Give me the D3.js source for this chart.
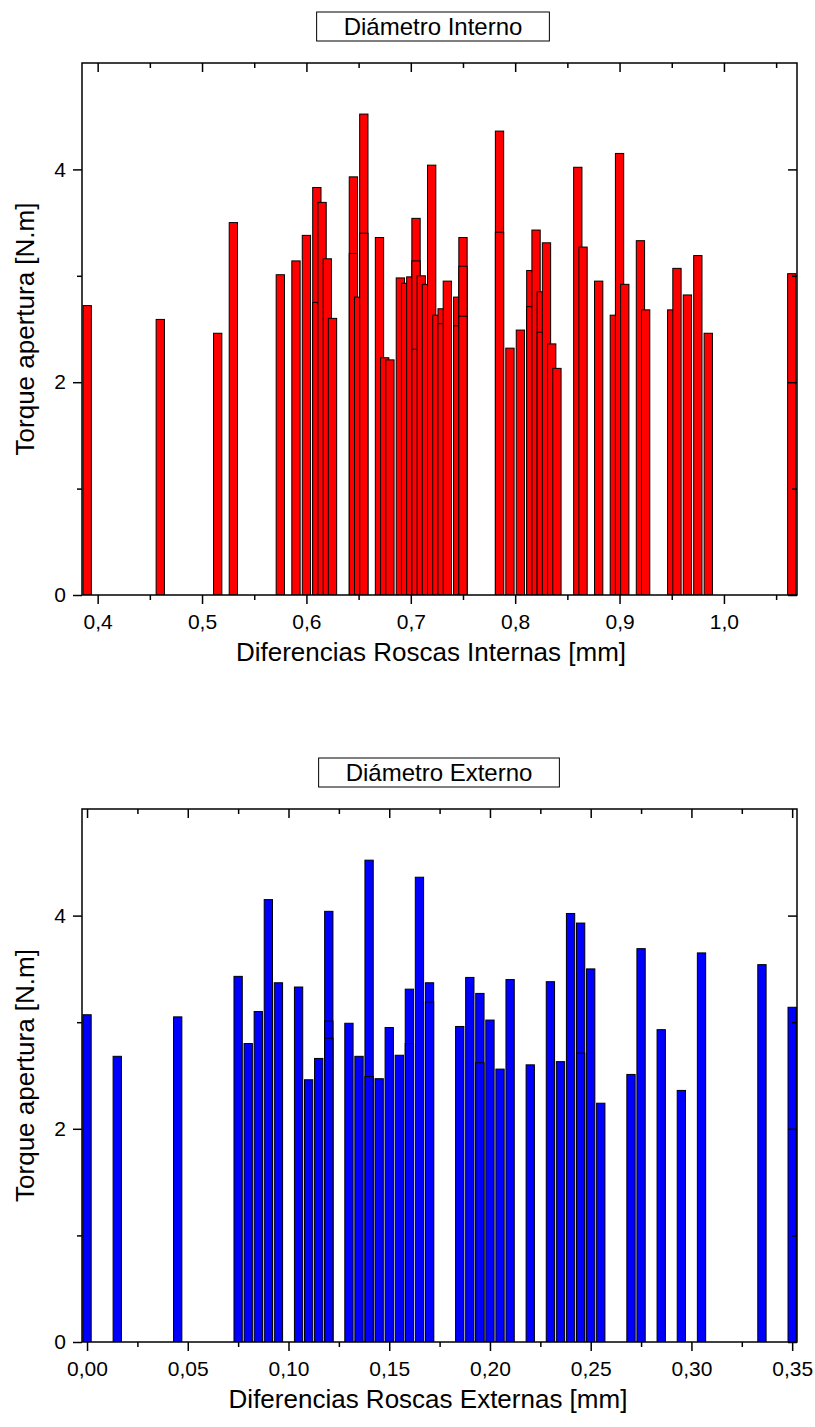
<!DOCTYPE html>
<html>
<head>
<meta charset="utf-8">
<script src="https://cdn.jsdelivr.net/npm/d3@7"></script>
<style>
body { margin: 0; background: #fff; }
text { font-family: "Liberation Sans", Arial, sans-serif; fill: #000; }
</style>
</head>
<body>
<svg id="chart" width="815" height="1427"></svg>
<script>
// Diámetro Interno: diferencia [mm] -> torque [N.m]
const internoX = [0.39, 0.46, 0.515, 0.53, 0.575, 0.59, 0.60, 0.61, 0.61, 0.615, 0.62, 0.625,
  0.645, 0.645, 0.65, 0.655, 0.655, 0.67, 0.675, 0.68, 0.69, 0.695, 0.70, 0.705, 0.705, 0.705,
  0.71, 0.715, 0.72, 0.725, 0.73, 0.73, 0.735, 0.745, 0.745, 0.75, 0.75, 0.75, 0.785, 0.785,
  0.795, 0.805, 0.815, 0.815, 0.82, 0.825, 0.825, 0.83, 0.835, 0.84, 0.86, 0.865, 0.88, 0.895,
  0.90, 0.905, 0.92, 0.925, 0.95, 0.955, 0.965, 0.975, 0.985, 1.065];
const internoY = [2.72, 2.59, 2.46, 3.50, 3.01, 3.14, 3.38, 3.83, 2.75, 3.69, 3.16, 2.60,
  3.93, 3.21, 2.80, 4.52, 3.40, 3.36, 2.23, 2.21, 2.98, 2.93, 2.99, 3.54, 3.14, 2.31,
  3.00, 2.92, 4.04, 2.63, 2.69, 2.55, 2.95, 2.80, 2.53, 3.36, 3.09, 2.62, 4.36, 3.41,
  2.32, 2.49, 3.05, 2.71, 3.43, 2.85, 2.47, 3.31, 2.36, 2.13, 4.02, 3.27, 2.95, 2.63,
  4.15, 2.92, 3.33, 2.68, 2.68, 3.07, 2.82, 3.19, 2.46, 3.02];

// Diámetro Externo
const externoX = [0.00, 0.015, 0.045, 0.075, 0.08, 0.085, 0.09, 0.095, 0.105, 0.11, 0.115,
  0.12, 0.12, 0.12, 0.13, 0.135, 0.14, 0.14, 0.145, 0.15, 0.155, 0.16, 0.16, 0.165, 0.17, 0.17,
  0.185, 0.19, 0.195, 0.195, 0.20, 0.205, 0.21, 0.22, 0.23, 0.235, 0.24, 0.245, 0.245, 0.25,
  0.255, 0.27, 0.275, 0.285, 0.295, 0.305, 0.335, 0.35];
const externoY = [3.07, 2.68, 3.05, 3.43, 2.80, 3.10, 4.15, 3.37, 3.33, 2.46, 2.66,
  4.04, 3.01, 2.85, 2.99, 2.68, 4.52, 2.49, 2.47, 2.95, 2.69, 3.31, 2.80, 4.36, 3.37, 3.19,
  2.96, 3.42, 3.27, 2.62, 3.02, 2.56, 3.40, 2.60, 3.38, 2.63, 4.02, 3.93, 2.71, 3.50,
  2.24, 2.51, 3.69, 2.93, 2.36, 3.65, 3.54, 3.14];

const yMajor = [0, 2, 4];
const yMinor = [1, 3];
const internoMajor = [0.4, 0.5, 0.6, 0.7, 0.8, 0.9, 1.0];
const internoMinor = [0.45, 0.55, 0.65, 0.75, 0.85, 0.95, 1.05];
const externoMajor = [0, 0.05, 0.10, 0.15, 0.20, 0.25, 0.30, 0.35];
const externoMinor = [0.025, 0.075, 0.125, 0.175, 0.225, 0.275, 0.325];

const svg = d3.select("#chart");
const barW = 8.3;

function comma(digits) {
    return d => d3.format("." + digits + "f")(d).replace(".", ",");
}

function drawPanel(cfg) {
    const x = d3.scaleLinear().domain(cfg.xDomain).range([cfg.left, cfg.right]);
    const y = d3.scaleLinear().domain([0, 5]).range([cfg.bottom, cfg.top]);
    const g = svg.append("g");

    // caja del título
    const t = g.append("text")
        .attr("x", cfg.titleX)
        .attr("y", cfg.titleY)
        .attr("text-anchor", "middle")
        .attr("font-size", 24)
        .text(cfg.title);
    const bb = t.node().getBBox();
    g.insert("rect", "text")
        .attr("x", bb.x - 27).attr("y", bb.y - 1)
        .attr("width", bb.width + 54).attr("height", bb.height + 2)
        .attr("fill", "#fff").attr("stroke", "#000").attr("stroke-width", 1);

    g.append("clipPath").attr("id", cfg.id)
        .append("rect")
        .attr("x", cfg.left).attr("y", cfg.top)
        .attr("width", cfg.right - cfg.left).attr("height", cfg.bottom - cfg.top);

    const data = cfg.xs.map((v, i) => ({ x: v, y: cfg.ys[i] }));
    g.append("g").attr("clip-path", `url(#${cfg.id})`)
        .selectAll("rect")
        .data(data)
        .enter()
        .append("rect")
        .attr("x", d => x(d.x) - barW / 2)
        .attr("y", d => y(d.y))
        .attr("width", barW)
        .attr("height", d => y(0) - y(d.y))
        .attr("fill", cfg.color)
        .attr("stroke", "#000")
        .attr("stroke-width", 1);

    // ejes
    const axes = [
        [d3.axisBottom(x).tickValues(cfg.major).tickSize(9).tickPadding(10).tickFormat(comma(cfg.digits)), `translate(0,${cfg.bottom})`],
        [d3.axisBottom(x).tickValues(cfg.minor).tickSize(5).tickFormat(""), `translate(0,${cfg.bottom})`],
        [d3.axisTop(x).tickValues(cfg.major).tickSize(-9).tickFormat(""), `translate(0,${cfg.top})`],
        [d3.axisTop(x).tickValues(cfg.minor).tickSize(-5).tickFormat(""), `translate(0,${cfg.top})`],
        [d3.axisLeft(y).tickValues(yMajor).tickSize(9).tickPadding(7).tickFormat(d3.format("d")), `translate(${cfg.left},0)`],
        [d3.axisLeft(y).tickValues(yMinor).tickSize(5).tickFormat(""), `translate(${cfg.left},0)`],
        [d3.axisRight(y).tickValues(yMajor).tickSize(-9).tickFormat(""), `translate(${cfg.right},0)`],
        [d3.axisRight(y).tickValues(yMinor).tickSize(-5).tickFormat(""), `translate(${cfg.right},0)`]
    ];
    axes.forEach(([ax, tr]) => {
        const a = g.append("g").attr("transform", tr).call(ax.tickSizeOuter(0));
        a.select(".domain").remove();
        a.selectAll("line").attr("stroke", "#000").attr("stroke-width", 1.5);
        a.selectAll("text").attr("font-size", 21).attr("font-family", "Liberation Sans, Arial, sans-serif");
    });

    g.append("rect")
        .attr("x", cfg.left).attr("y", cfg.top)
        .attr("width", cfg.right - cfg.left).attr("height", cfg.bottom - cfg.top)
        .attr("fill", "none").attr("stroke", "#000").attr("stroke-width", 1.5);

    g.append("text")
        .attr("x", cfg.xTitleX)
        .attr("y", cfg.bottom + 66)
        .attr("text-anchor", "middle")
        .attr("font-size", 26)
        .text(cfg.xTitle);

    g.append("text")
        .attr("transform", `translate(34,${(cfg.top + cfg.bottom) / 2}) rotate(-90)`)
        .attr("text-anchor", "middle")
        .attr("font-size", 26)
        .text("Torque apertura [N.m]");
}

drawPanel({
    id: "clipInterno", title: "Diámetro Interno", titleX: 433, titleY: 35,
    xDomain: [0.385, 1.07], left: 82, right: 797, top: 63, bottom: 595,
    xs: internoX, ys: internoY, color: "#ff0000",
    major: internoMajor, minor: internoMinor, digits: 1,
    xTitle: "Diferencias Roscas Internas [mm]", xTitleX: 431
});

drawPanel({
    id: "clipExterno", title: "Diámetro Externo", titleX: 439, titleY: 781,
    xDomain: [-0.0025, 0.3524], left: 82, right: 797, top: 809, bottom: 1342,
    xs: externoX, ys: externoY, color: "#0000ff",
    major: externoMajor, minor: externoMinor, digits: 2,
    xTitle: "Diferencias Roscas Externas  [mm]", xTitleX: 428
});
</script>
</body>
</html>
